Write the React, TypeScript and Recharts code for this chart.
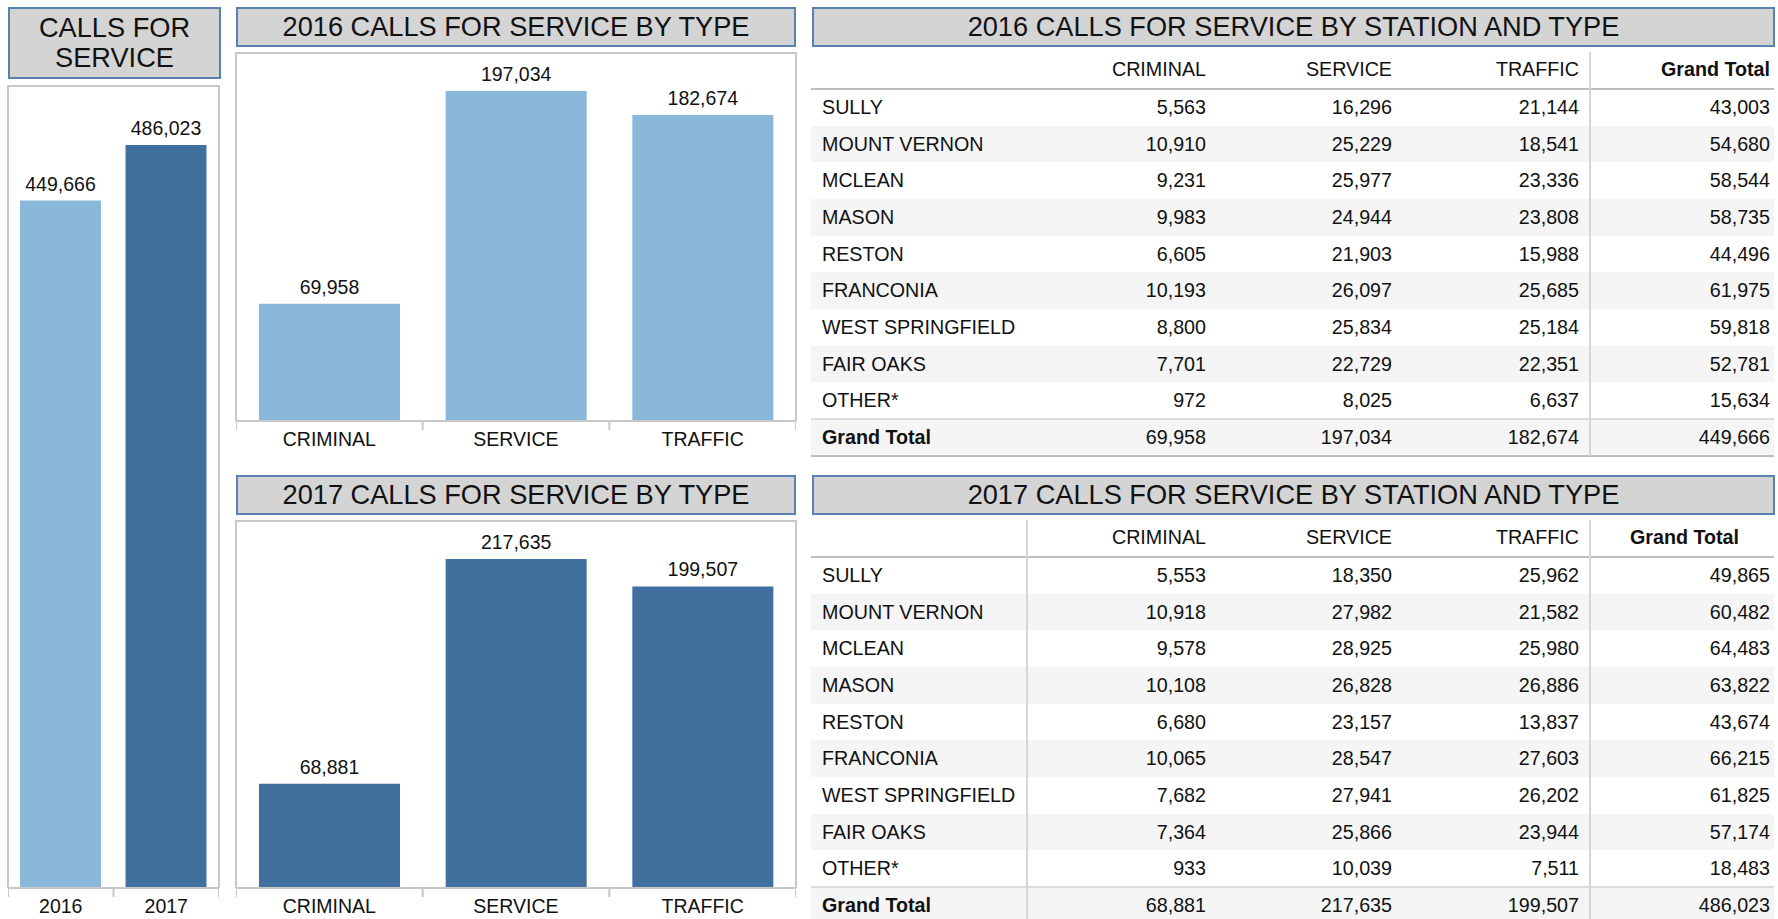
import React from "react";
import { BarChart, Bar, XAxis, YAxis, Cell, LabelList } from "recharts";

const years = ["2016", "2017"];
const yearTotals = [449666, 486023];

const types = ["CRIMINAL", "SERVICE", "TRAFFIC"];
const types2016 = [69958, 197034, 182674];
const types2017 = [68881, 217635, 199507];

const stations = [
  "SULLY",
  "MOUNT VERNON",
  "MCLEAN",
  "MASON",
  "RESTON",
  "FRANCONIA",
  "WEST SPRINGFIELD",
  "FAIR OAKS",
  "OTHER*",
];
const columns = ["CRIMINAL", "SERVICE", "TRAFFIC", "Grand Total"];

const criminal2016 = [5563, 10910, 9231, 9983, 6605, 10193, 8800, 7701, 972];
const service2016 = [16296, 25229, 25977, 24944, 21903, 26097, 25834, 22729, 8025];
const traffic2016 = [21144, 18541, 23336, 23808, 15988, 25685, 25184, 22351, 6637];
const total2016 = [43003, 54680, 58544, 58735, 44496, 61975, 59818, 52781, 15634];
const grand2016 = [69958, 197034, 182674, 449666];

const criminal2017 = [5553, 10918, 9578, 10108, 6680, 10065, 7682, 7364, 933];
const service2017 = [18350, 27982, 28925, 26828, 23157, 28547, 27941, 25866, 10039];
const traffic2017 = [25962, 21582, 25980, 26886, 13837, 27603, 26202, 23944, 7511];
const total2017 = [49865, 60482, 64483, 63822, 43674, 66215, 61825, 57174, 18483];
const grand2017 = [68881, 217635, 199507, 486023];

// ---- styles ----
const FONT = '"Liberation Sans", Arial, sans-serif';
const LIGHT = "#8AB8DA";
const DARK = "#41709F";
const FRAME = "#C8C8C8";
const TEXT = "#111";

const fmt = (v: number) => Number(v).toLocaleString("en-US");

const TitleBox = ({ x, y, w, h, lines, size = 27.2 }) => (
  <div
    style={{
      position: "absolute",
      left: x,
      top: y,
      width: w,
      height: h,
      boxSizing: "border-box",
      background: "#D4D4D4",
      border: "2px solid #5A82B0",
      display: "flex",
      flexDirection: "column",
      alignItems: "center",
      justifyContent: "center",
      fontSize: size,
      lineHeight: "30px",
      color: TEXT,
    }}
  >
    {lines.map((l) => (
      <div key={l}>{l}</div>
    ))}
  </div>
);

const makeTick = (band: number, count: number, dy: number) => (props: any) => {
  const { x, y, payload, index } = props;
  return (
    <g>
      <line x1={x - band / 2} x2={x - band / 2} y1={y} y2={y + 9} stroke={FRAME} strokeWidth={2} />
      {index === count - 1 && (
        <line x1={x + band / 2} x2={x + band / 2} y1={y} y2={y + 9} stroke={FRAME} strokeWidth={2} />
      )}
      <text x={x} y={y + dy} textAnchor="middle" fontSize={19.5} fill={TEXT} fontFamily={FONT}>
        {payload.value}
      </text>
    </g>
  );
};

const BarPanel = ({ left, top, width, plotHeight, axisHeight, cats, values, colors, max, barSize }) => {
  const data = cats.map((c, i) => ({ name: c, value: values[i] }));
  return (
    <>
      <div
        style={{
          position: "absolute",
          left: left - 1,
          top,
          width: width + 2,
          height: plotHeight,
          boxSizing: "border-box",
          borderTop: `2px solid ${FRAME}`,
          borderLeft: `2px solid ${FRAME}`,
          borderRight: `2px solid ${FRAME}`,
        }}
      />
      <div style={{ position: "absolute", left, top }}>
        <BarChart
          width={width}
          height={plotHeight + axisHeight}
          data={data}
          margin={{ top: 0, right: 0, bottom: 0, left: 0 }}
        >
          <YAxis hide domain={[0, max]} />
          <XAxis
            dataKey="name"
            height={axisHeight}
            tickLine={false}
            tickSize={0}
            tickMargin={0}
            axisLine={{ stroke: FRAME, strokeWidth: 2 }}
            interval={0}
            tick={makeTick(width / cats.length, cats.length, 25)}
          />
          <Bar dataKey="value" barSize={barSize} isAnimationActive={false}>
            {data.map((d, i) => (
              <Cell key={d.name} fill={colors[i % colors.length]} />
            ))}
            <LabelList
              dataKey="value"
              position="top"
              offset={10}
              formatter={fmt}
              style={{ fontSize: 19.5, fill: TEXT, fontFamily: FONT }}
            />
          </Bar>
        </BarChart>
      </div>
    </>
  );
};

const COL_RIGHT = [1206, 1392, 1579, 1770];
const T_LEFT = 811;
const T_WIDTH = 963;
const ROW_H = 36.67;

const StationTable = ({ top, title, cols, grand, leftDivider, totalHeadRight }) => {
  const head = top + 82;
  const rows = stations.map((s, i) => ({ label: s, vals: cols.map((c) => c[i]) }));
  rows.push({ label: "Grand Total", vals: grand });
  const headRight = [COL_RIGHT[0], COL_RIGHT[1], COL_RIGHT[2], totalHeadRight];
  const line = (y: number, color: string) => (
    <div style={{ position: "absolute", left: T_LEFT, top: y - 1, width: T_WIDTH, height: 2, background: color }} />
  );
  const vline = (x: number) => (
    <div style={{ position: "absolute", left: x - 1, top: top + 45, width: 2, height: 404, background: "#D6D6D6" }} />
  );
  return (
    <>
      <TitleBox x={812} y={top} w={963} h={40} lines={[title]} />
      {columns.map((c, j) => (
        <div
          key={c}
          style={{
            position: "absolute",
            left: headRight[j] - 180,
            width: 180,
            top: top + 50,
            height: 24,
            lineHeight: "24px",
            textAlign: "right",
            fontWeight: j === 3 ? "bold" : "normal",
          }}
        >
          {c}
        </div>
      ))}
      {rows.map((r, i) => {
        const y = head + i * ROW_H;
        return (
          <div key={r.label}>
            <div
              style={{
                position: "absolute",
                left: T_LEFT,
                top: y,
                width: T_WIDTH,
                height: ROW_H,
                background: i % 2 === 1 ? "#F5F5F5" : "#FFFFFF",
              }}
            />
            <div
              style={{
                position: "absolute",
                left: 822,
                top: y,
                height: ROW_H,
                lineHeight: `${ROW_H}px`,
                fontWeight: i === 9 ? "bold" : "normal",
              }}
            >
              {r.label}
            </div>
            {r.vals.map((v, j) => (
              <div
                key={j}
                style={{
                  position: "absolute",
                  left: COL_RIGHT[j] - 150,
                  width: 150,
                  top: y,
                  height: ROW_H,
                  lineHeight: `${ROW_H}px`,
                  textAlign: "right",
                }}
              >
                {fmt(v)}
              </div>
            ))}
          </div>
        );
      })}
      {line(head, "#BDBDBD")}
      {line(head + 9 * ROW_H, "#DCDCDC")}
      {line(head + 10 * ROW_H, "#BDBDBD")}
      {vline(1590)}
      {leftDivider && vline(1027)}
    </>
  );
};

export default function App() {
  return (
    <div
      style={{
        position: "absolute",
        left: 0,
        top: 0,
        width: 1778,
        height: 919,
        overflow: "hidden",
        background: "#fff",
        fontFamily: FONT,
        fontSize: 19.7,
        color: TEXT,
      }}
    >
      <TitleBox x={8} y={7} w={213} h={72} lines={["CALLS FOR", "SERVICE"]} />
      <BarPanel
        left={8}
        top={85}
        width={211}
        plotHeight={803}
        axisHeight={31}
        cats={years}
        values={yearTotals}
        colors={[LIGHT, DARK]}
        max={525270}
        barSize={81}
      />

      <TitleBox x={236} y={7} w={560} h={40} lines={["2016 CALLS FOR SERVICE BY TYPE"]} />
      <BarPanel
        left={236}
        top={52}
        width={560}
        plotHeight={369}
        axisHeight={45}
        cats={types}
        values={types2016}
        colors={[LIGHT]}
        max={220320}
        barSize={141}
      />

      <TitleBox x={236} y={475} w={560} h={40} lines={["2017 CALLS FOR SERVICE BY TYPE"]} />
      <BarPanel
        left={236}
        top={520}
        width={560}
        plotHeight={368}
        axisHeight={31}
        cats={types}
        values={types2017}
        colors={[DARK]}
        max={243430}
        barSize={141}
      />

      <StationTable
        top={7}
        title="2016 CALLS FOR SERVICE BY STATION AND TYPE"
        cols={[criminal2016, service2016, traffic2016, total2016]}
        grand={grand2016}
        leftDivider={false}
        totalHeadRight={1770}
      />
      <StationTable
        top={475}
        title="2017 CALLS FOR SERVICE BY STATION AND TYPE"
        cols={[criminal2017, service2017, traffic2017, total2017]}
        grand={grand2017}
        leftDivider={true}
        totalHeadRight={1739}
      />
    </div>
  );
}
